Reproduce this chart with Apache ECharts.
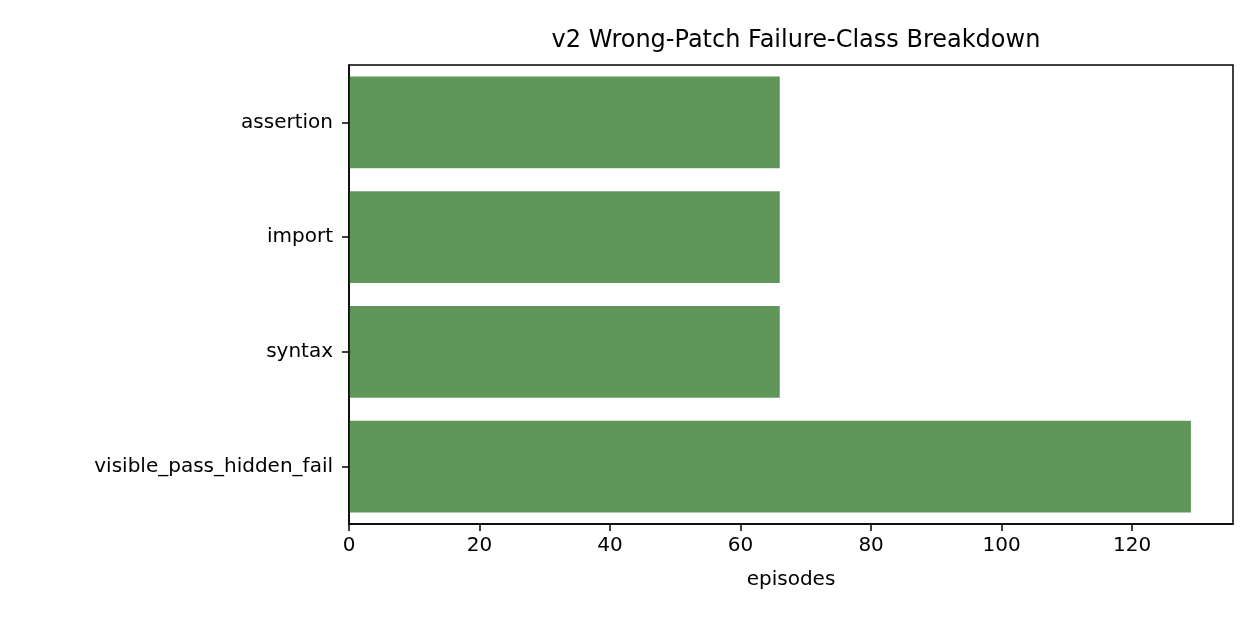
<!DOCTYPE html>
<html><head><meta charset="utf-8">
<script src="https://cdn.jsdelivr.net/npm/echarts@6/dist/echarts.min.js"></script>
<style>html,body{margin:0;padding:0;background:#fff}#c{width:1260px;height:630px}</style>
</head><body><div id="c"></div>
<script>
const categories = ["assertion", "import", "syntax", "visible_pass_hidden_fail"];
const values = [66, 66, 66, 129];
const xTicks = [0, 20, 40, 60, 80, 100, 120];
const chart = echarts.init(document.getElementById('c'));
const font = 'DejaVu Sans';
chart.setOption({
  animation: false,
  title: { text: 'v2 Wrong-Patch Failure-Class Breakdown', left: 791, top: 24, textAlign: 'center',
    textStyle: { fontFamily: font, fontSize: 24, fontWeight: 'normal', color: '#000' } },
  grid: { left: 349, right: 27, top: 65, bottom: 106 },
  xAxis: { type: 'value', min: 0, max: 135.45, interval: 20,
    name: 'episodes', nameLocation: 'middle', nameGap: 46,
    nameTextStyle: { fontFamily: font, fontSize: 20, color: '#000' },
    axisLine: { show: true, lineStyle: { color: '#000', width: 1.5 } },
    axisTick: { show: true, length: 7, lineStyle: { color: '#000', width: 1.5 } },
    axisLabel: { fontFamily: font, fontSize: 20, color: '#000', margin: 12, showMaxLabel: false,
      formatter: v => xTicks.includes(v) ? String(v) : '' },
    splitLine: { show: false } },
  yAxis: { type: 'category', data: categories, inverse: true,
    axisLine: { show: true, lineStyle: { color: '#000', width: 1.5 } },
    axisTick: { show: true, alignWithLabel: true, length: 7, lineStyle: { color: '#000', width: 1.5 } },
    axisLabel: { fontFamily: font, fontSize: 20, color: '#000', margin: 16 } },
  series: [{ type: 'bar', data: values, barCategoryGap: '20%',
    itemStyle: { color: '#61965a' } }],
  graphic: [{ type: 'rect', shape: { x: 349, y: 65, width: 884, height: 459 },
    style: { fill: 'none', stroke: '#000', lineWidth: 1.5 }, silent: true, z: 10 }]
});
</script></body></html>
